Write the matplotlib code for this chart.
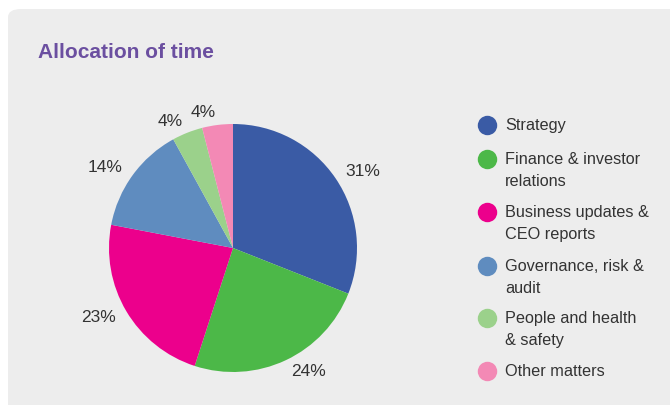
import matplotlib.pyplot as plt
from matplotlib.patches import FancyBboxPatch

# data
categories = ['Strategy', 'Finance & investor\nrelations', 'Business updates &\nCEO reports',
              'Governance, risk &\naudit', 'People and health\n& safety', 'Other matters']
shares = [31, 24, 23, 14, 4, 4]
colours = ['#3A5BA5', '#4CB848', '#EC008C', '#5F8CBF', '#9BD18B', '#F389B5']

plt.rcParams['font.family'] = ['Liberation Sans', 'DejaVu Sans']

W, H = 670, 405
fig = plt.figure(figsize=(W / 100, H / 100), dpi=100)
fig.patch.set_facecolor('white')

# grey panel with rounded top-left corner
panel = FancyBboxPatch((8 / W, -0.1), 1.2, (H - 9) / H + 0.1,
                       boxstyle='round,pad=0,rounding_size=0.02',
                       transform=fig.transFigure, facecolor='#EDEDED',
                       edgecolor='none', zorder=-10)
fig.patches.append(panel)

fig.text(38 / W, 1 - 52 / H, 'Allocation of time', color='#6B4FA0',
         fontsize=15, fontweight='bold', va='center', ha='left')

# pie
cx, cy, r = 233, 248, 124
ax = fig.add_axes([(cx - r) / W, (H - cy - r) / H, 2 * r / W, 2 * r / H])
ax.set_zorder(5)
wedges, texts = ax.pie(shares, colors=colours, startangle=90, counterclock=False,
                       radius=1, labels=[f'{v}%' for v in shares], labeldistance=1.1,
                       wedgeprops=dict(linewidth=0),
                       textprops=dict(fontsize=12.5, color='#333333'))
ax.set_xlim(-1, 1)
ax.set_ylim(-1, 1)
ax.set_aspect('equal')
ax.axis('off')

# legend drawn by hand so markers line up with first text line
leg_y = [125, 159, 212, 266, 318, 371]
for y, lab, c in zip(leg_y, categories, colours):
    fig.lines.append(plt.Line2D([487 / W], [1 - y / H], marker='o', markersize=14,
                                markerfacecolor=c, markeredgecolor='none',
                                transform=fig.transFigure))
    fig.text(505 / W, 1 - (y - 7) / H, lab, ha='left', va='top', fontsize=11.7,
             color='#333333', linespacing=1.55)

fig.savefig('out.png', dpi=100)
